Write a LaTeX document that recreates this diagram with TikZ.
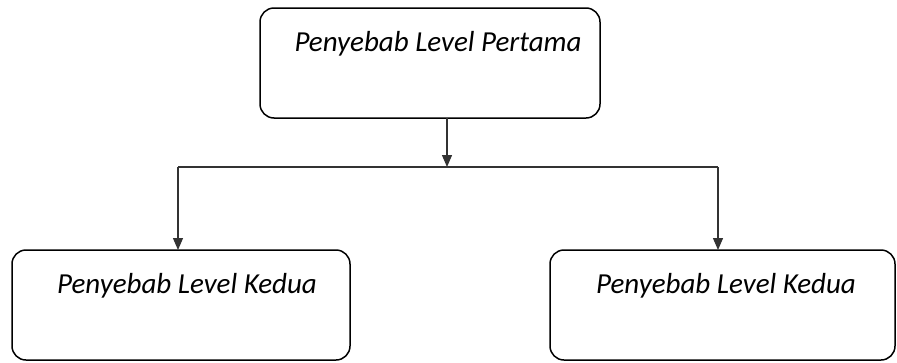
\documentclass[tikz,border=0pt]{standalone}
\usepackage{fontspec}
\setmainfont{Carlito}
\usetikzlibrary{arrows.meta}
\begin{document}
\begin{tikzpicture}[x=1pt,y=-1pt,
  boxst/.style={draw=black,line width=1.5pt,rounded corners=14pt},
  lbl/.style={font=\fontsize{29}{34}\selectfont\itshape,anchor=base},
  conn/.style={line width=1.3pt,draw=black!80},
  arr/.style={conn,-{Triangle[width=10pt,length=12pt]}}]
\useasboundingbox (0,0) rectangle (897,362);
\draw[boxst] (260,8) rectangle (600,118);
\node[lbl] (t) at (438,51) {Penyebab Level Pertama};
\coordinate (topb) at (447,118);
\coordinate (j) at (447,167);
\draw[boxst] (12,250) rectangle (350,360);
\node[lbl] (l) at (187,293) {Penyebab Level Kedua};
\draw[boxst] (550,250) rectangle (895,360);
\node[lbl] (r) at (726,293) {Penyebab Level Kedua};
\coordinate (lt) at (178,250);
\coordinate (rt) at (718,250);
\coordinate (lc) at (178,167);
\coordinate (rc) at (718,167);
\draw[arr] (topb) -- (j);
\draw[conn] (lc) -- (rc);
\draw[arr] (lc) -- (lt);
\draw[arr] (rc) -- (rt);
\end{tikzpicture}
\end{document}
